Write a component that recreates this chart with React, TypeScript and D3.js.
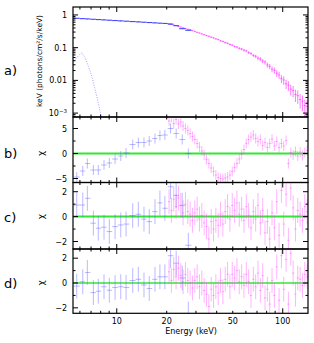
import React from "react";
import * as d3 from "d3";

// ---------- data ----------
const blueE = [5.74, 6.24, 6.65, 7.23, 7.74, 8.38, 9.02, 9.77, 10.57, 11.38, 12.48, 13.49, 14.59, 15.7, 17.0, 18.2, 19.5, 21.1, 22.8, 24.8, 27.0];
const blueFlux = [0.79, 0.771, 0.757, 0.738, 0.723, 0.706, 0.691, 0.675, 0.659, 0.645, 0.628, 0.614, 0.6, 0.586, 0.573, 0.561, 0.55, 0.525, 0.47, 0.38, 0.34];
const blueResB = [-4.7, -3.5, -2.0, -3.3, -3.3, -2.3, -1.9, -1.1, -0.5, 0.1, 1.8, 2.2, 2.2, 2.5, 3.0, 3.6, 3.7, 5.0, 4.0, 2.8, 0.0];
const blueResC = [0.93, 0.93, 1.47, -0.53, -0.93, -0.85, -1.2, -0.8, -0.67, -0.6, 0.08, 0.19, -0.2, -0.4, 0.4, 1.1, 0.67, 2.4, 1.7, 0.9, -2.3];
const blueResD = [-0.25, 0.1, 0.85, -0.77, -0.66, -0.3, -0.58, -0.36, -0.3, -0.36, 0.2, 0.3, -0.16, -0.44, 0.3, 0.5, 0.5, 2.2, 1.6, 0.4, -2.5];

const magE = [20.66, 21.34, 22.05, 22.77, 23.53, 24.3, 25.1, 25.93, 26.79, 27.67, 28.59, 29.53, 30.5, 31.51, 32.55, 33.63, 34.74, 35.88, 37.07, 38.29, 39.55, 40.86, 42.21, 43.6, 45.04, 46.53, 48.06, 49.65, 51.29, 52.98, 54.73, 56.54, 58.4, 60.33, 62.32, 64.38, 66.5, 68.7, 70.96, 73.31, 75.73, 78.22, 80.81, 83.47, 86.23, 89.07, 92.01, 95.05, 98.19, 101.4, 104.8, 108.2, 111.8, 115.5, 119.3, 123.2, 127.3, 131.5, 135.8, 140.3];
const magFlux = [0.536, 0.522, 0.49, 0.472, 0.446, 0.428, 0.404, 0.387, 0.366, 0.351, 0.33, 0.314, 0.294, 0.28, 0.263, 0.25, 0.234, 0.223, 0.209, 0.199, 0.186, 0.177, 0.163, 0.155, 0.143, 0.136, 0.125, 0.119, 0.109, 0.104, 0.0955, 0.0905, 0.0835, 0.0795, 0.071, 0.066, 0.058, 0.0545, 0.0478, 0.045, 0.0392, 0.036, 0.0296, 0.027, 0.022, 0.0203, 0.0165, 0.0147, 0.0113, 0.0103, 0.0079, 0.0071, 0.0054, 0.0049, 0.0037, 0.0034, 0.0026, 0.0023, 0.0017, 0.0016];
const magRelErr = [0.03, 0.03, 0.03, 0.03, 0.03, 0.03, 0.035, 0.035, 0.035, 0.035, 0.04, 0.04, 0.04, 0.04, 0.045, 0.045, 0.045, 0.05, 0.05, 0.05, 0.055, 0.055, 0.06, 0.06, 0.065, 0.065, 0.07, 0.07, 0.075, 0.08, 0.08, 0.085, 0.09, 0.09, 0.1, 0.1, 0.11, 0.12, 0.13, 0.14, 0.15, 0.16, 0.17, 0.18, 0.2, 0.21, 0.23, 0.25, 0.27, 0.29, 0.31, 0.33, 0.36, 0.38, 0.41, 0.44, 0.47, 0.5, 0.55, 0.6];
const magResB = [6.5, 7.2, 6.0, 6.8, 5.9, 6.3, 5.5, 5.0, 4.6, 4.0, 3.4, 2.8, 2.0, 1.3, 0.5, -0.3, -1.2, -2.0, -2.9, -3.6, -4.3, -4.8, -5.0, -5.1, -4.9, -4.7, -4.3, -3.6, -2.8, -2.0, -1.1, -0.2, 0.8, 2.0, 2.8, 3.3, 3.7, 3.0, 2.4, 2.8, 1.6, 2.2, 1.2, 2.0, 2.9, 1.5, 2.4, 1.2, 2.0, 1.5, 2.6, -2.0, 0.2, -0.3, 0.4, -0.5, 0.3, -0.4, 0.2, 0.6];
const magResC = [1.2, 0.5, 1.4, 0.8, 1.5, 0.9, 0.3, 1.0, 0.4, 0.2, -0.3, 0.3, 0.6, -0.2, 0.1, -0.5, -0.8, -1.8, -0.4, -1.0, -0.3, -0.7, 0.2, -0.6, 0.4, 0.8, -0.2, 0.9, 0.5, 1.1, 0.2, 0.6, -0.3, 0.8, 0.1, -0.9, 0.4, -0.2, 0.9, -0.5, 0.5, -1.3, -0.4, -1.8, 0.3, -0.9, 1.2, -1.5, 2.1, -0.6, 1.8, -1.9, 2.3, 0.7, -1.0, 0.5, 0.2, -0.3, 0.8, 0.4];
const magResD = [0.9, 0.2, 1.1, 0.5, 1.2, 0.6, 0.1, 0.7, 0.2, 0.0, -0.4, 0.2, 0.5, -0.3, 0.0, -0.6, -0.9, -1.9, -0.5, -1.0, -0.3, -0.8, 0.2, -0.7, 0.3, 0.7, -0.3, 0.7, 0.4, 1.0, 0.1, 0.5, -0.2, 0.7, 0.1, -1.0, 0.3, -0.3, 0.8, -0.6, 0.6, -1.2, -0.5, -1.7, 0.2, -1.0, 1.3, -1.4, 2.2, -0.5, 1.9, -1.7, 2.4, 0.8, -0.9, 0.4, 0.3, -0.2, 0.7, 0.5];

const bbE = [5.46, 5.74, 6.0, 6.16, 6.45, 6.75, 7.07, 7.4, 7.74, 7.94, 8.3];
const bbFlux = [0.035, 0.049, 0.063, 0.069, 0.049, 0.027, 0.0136, 0.0053, 0.0021, 0.0011, 0.0004];

const xMajor = [10, 100];
const xMinor = [6, 7, 8, 9, 20, 30, 40, 50, 60, 70, 80, 90];
const xLabels = [10, 20, 50, 100];

// ---------- layout ----------
const L = 73, R = 308;
const font = "DejaVu Sans, sans-serif";
const BLUE = "#5a5aff";
const MAG = "#ff44ff";
const GREEN = "#33e833";

const x = d3.scaleLog().domain([5.45, 142]).range([L, R]);
const yA = d3.scaleLog().domain([7.6e-4, 1.75]).range([117, 7]);
const yB = d3.scaleLinear().domain([-5.8, 7.3]).range([182.5, 117]);
const yC = d3.scaleLinear().domain([-2.6, 2.74]).range([249, 182.5]);
const yD = d3.scaleLinear().domain([-2.44, 2.74]).range([313.3, 249]);

function binEdges(arr: number[], i: number): [number, number] {
  const prev = i > 0 ? arr[i - 1] : arr[i] * arr[i] / arr[i + 1];
  const next = i < arr.length - 1 ? arr[i + 1] : arr[i] * arr[i] / arr[i - 1];
  return [Math.sqrt(prev * arr[i]), Math.sqrt(arr[i] * next)];
}

function XTicks({ top, bottom }: { top: number; bottom: number }) {
  const out: any[] = [];
  xMajor.forEach((v, i) => {
    out.push(<line key={"mt" + i} x1={x(v)} x2={x(v)} y1={top} y2={top + 5} stroke="#000" />);
    out.push(<line key={"mb" + i} x1={x(v)} x2={x(v)} y1={bottom} y2={bottom - 5} stroke="#000" />);
  });
  xMinor.forEach((v, i) => {
    out.push(<line key={"nt" + i} x1={x(v)} x2={x(v)} y1={top} y2={top + 2.5} stroke="#000" />);
    out.push(<line key={"nb" + i} x1={x(v)} x2={x(v)} y1={bottom} y2={bottom - 2.5} stroke="#000" />);
  });
  return <g>{out}</g>;
}

function ResPanel({ y, blue, mag, major, minor, labels, id, greenW }: any) {
  const [y0, y1] = y.range();
  const top = y1, bottom = y0;
  return (
    <g>
      <clipPath id={id}>
        <rect x={L} y={top} width={R - L} height={bottom - top} />
      </clipPath>
      <g clipPath={`url(#${id})`}>
        <line x1={L} x2={R} y1={y(0)} y2={y(0)} stroke={GREEN} strokeWidth={greenW} />
        {blueE.map((e, i) => {
          const [a, b] = binEdges(blueE, i);
          return (
            <g key={"b" + i} stroke={BLUE} strokeOpacity={0.42} strokeWidth={1}>
              <line x1={x(a)} x2={x(b)} y1={y(blue[i])} y2={y(blue[i])} />
              <line x1={x(e)} x2={x(e)} y1={y(blue[i] - 1)} y2={y(blue[i] + 1)} />
            </g>
          );
        })}
        {magE.map((e, i) => {
          const [a, b] = binEdges(magE, i);
          return (
            <g key={"m" + i} stroke={MAG} strokeOpacity={0.4} strokeWidth={1}>
              <line x1={x(a)} x2={x(b)} y1={y(mag[i])} y2={y(mag[i])} />
              <line x1={x(e)} x2={x(e)} y1={y(mag[i] - 1)} y2={y(mag[i] + 1)} />
            </g>
          );
        })}
      </g>
      <XTicks top={top} bottom={bottom} />
      {major.map((v: number, i: number) => (
        <g key={"ym" + i}>
          <line x1={L} x2={L + 5} y1={y(v)} y2={y(v)} stroke="#000" />
          <line x1={R} x2={R - 5} y1={y(v)} y2={y(v)} stroke="#000" />
        </g>
      ))}
      {minor.map((v: number, i: number) => (
        <g key={"yn" + i}>
          <line x1={L} x2={L + 2.5} y1={y(v)} y2={y(v)} stroke="#000" />
          <line x1={R} x2={R - 2.5} y1={y(v)} y2={y(v)} stroke="#000" />
        </g>
      ))}
      {labels.map((v: number, i: number) => (
        <text key={"yl" + i} x={67} y={y(v) + 3} fontSize={8} textAnchor="end" fontFamily={font}>
          {v < 0 ? "\u2212" + Math.abs(v) : String(v)}
        </text>
      ))}
      <rect x={L} y={top} width={R - L} height={bottom - top} fill="none" stroke="#000" strokeWidth={1.2} />
      <text x={0} y={0} transform={`translate(41,${y(0)}) rotate(-90)`} fontSize={9} textAnchor="middle" dominantBaseline="middle" fontFamily={font}>
        χ
      </text>
    </g>
  );
}

export default function App() {
  const aDecades = [1, 0.1, 0.01, 0.001];
  const aMinor: number[] = [];
  [0.0001, 0.001, 0.01, 0.1, 1].forEach((d) => {
    for (let k = 2; k <= 9; k++) {
      const v = d * k;
      if (v > 7.6e-4 && v < 1.75) aMinor.push(v);
    }
  });
  const bbLine = d3
    .line<number>()
    .x((_, i) => x(bbE[i]))
    .y((v) => yA(Math.max(v, 1e-5)));

  return (
    <svg width={314} height={343} style={{ position: "absolute", left: 0, top: 0, background: "#fff" }}>
      <rect width={314} height={343} fill="#fff" />
      <clipPath id="clipA">
        <rect x={L} y={7} width={R - L} height={110} />
      </clipPath>
      <g clipPath="url(#clipA)">
        <path d={bbLine(bbFlux) || ""} fill="none" stroke="#a0a0ff" strokeWidth={1} strokeDasharray="1,1.5" />
        {magE.map((e, i) => {
          const [a, b] = binEdges(magE, i);
          const f = magFlux[i], r = magRelErr[i];
          return (
            <g key={"am" + i} stroke={MAG} strokeOpacity={0.7} strokeWidth={1}>
              <line x1={x(a)} x2={x(b)} y1={yA(f)} y2={yA(f)} />
              <line x1={x(e)} x2={x(e)} y1={yA(f * (1 - r))} y2={yA(f * (1 + r))} />
            </g>
          );
        })}
        {blueE.map((e, i) => {
          const [a, b] = binEdges(blueE, i);
          const f = blueFlux[i];
          return (
            <g key={"ab" + i} stroke="#4646ff" strokeWidth={1.1}>
              <line x1={x(a)} x2={x(b)} y1={yA(f)} y2={yA(f)} />
              <line x1={x(e)} x2={x(e)} y1={yA(f * 0.98)} y2={yA(f * 1.02)} />
            </g>
          );
        })}
      </g>
      <XTicks top={7} bottom={117} />
      {aDecades.map((v, i) => (
        <g key={"ad" + i}>
          <line x1={L} x2={L + 5} y1={yA(v)} y2={yA(v)} stroke="#000" />
          <line x1={R} x2={R - 5} y1={yA(v)} y2={yA(v)} stroke="#000" />
        </g>
      ))}
      {aMinor.map((v, i) => (
        <g key={"an" + i}>
          <line x1={L} x2={L + 2.5} y1={yA(v)} y2={yA(v)} stroke="#000" />
          <line x1={R} x2={R - 2.5} y1={yA(v)} y2={yA(v)} stroke="#000" />
        </g>
      ))}
      <text x={67} y={yA(1) + 3} fontSize={8} textAnchor="end" fontFamily={font}>1</text>
      <text x={67} y={yA(0.1) + 3} fontSize={8} textAnchor="end" fontFamily={font}>0.1</text>
      <text x={67} y={yA(0.01) + 3} fontSize={8} textAnchor="end" fontFamily={font}>0.01</text>
      <text x={67} y={yA(0.001) + 3} fontSize={8} textAnchor="end" fontFamily={font}>
        10<tspan fontSize={5.5} dy={-3.5}>{"\u22123"}</tspan>
      </text>
      <rect x={L} y={7} width={R - L} height={110} fill="none" stroke="#000" strokeWidth={1.2} />
      <text transform="translate(42,61) rotate(-90)" fontSize={7.5} textAnchor="middle" fontFamily={font}>
        keV (photons/cm²/s/keV)
      </text>

      <ResPanel id="clipB" y={yB} blue={blueResB} mag={magResB} major={[-5, 0, 5]} minor={[-2.5, 2.5]} labels={[5, 0, -5]} greenW={2} />
      <ResPanel id="clipC" y={yC} blue={blueResC} mag={magResC} major={[-2, 0, 2]} minor={[-1, 1]} labels={[2, 0, -2]} greenW={2} />
      <ResPanel id="clipD" y={yD} blue={blueResD} mag={magResD} major={[-2, 0, 2]} minor={[-1, 1]} labels={[2, 0, -2]} greenW={1.5} />

      {xLabels.map((v, i) => (
        <text key={"xl" + i} x={x(v)} y={324} fontSize={8} textAnchor="middle" fontFamily={font}>
          {v}
        </text>
      ))}
      <text x={191} y={334} fontSize={8} textAnchor="middle" fontFamily={font}>Energy (keV)</text>

      <text x={4} y={75} fontSize={13} fontFamily={font}>a)</text>
      <text x={4} y={158} fontSize={13} fontFamily={font}>b)</text>
      <text x={4} y={222} fontSize={13} fontFamily={font}>c)</text>
      <text x={4} y={288} fontSize={13} fontFamily={font}>d)</text>
    </svg>
  );
}
